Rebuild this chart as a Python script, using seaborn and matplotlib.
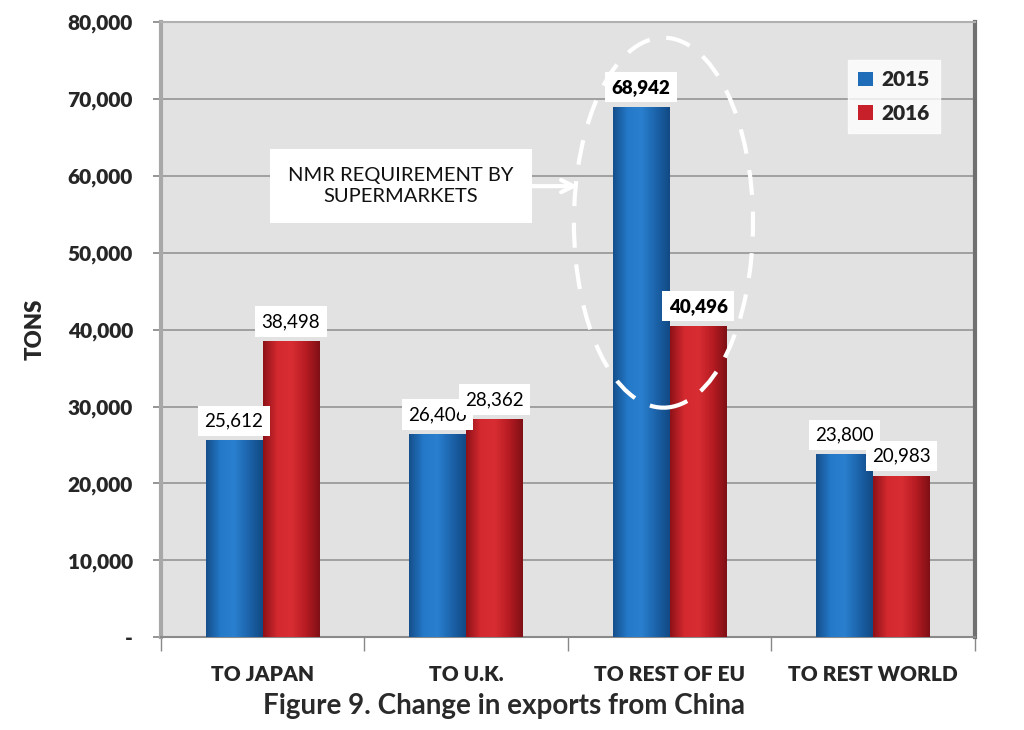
import numpy as np
import pandas as pd
import matplotlib
matplotlib.use("Agg")
import matplotlib.pyplot as plt
import seaborn as sns
from matplotlib.patches import Ellipse
from matplotlib.colors import LinearSegmentedColormap

categories = ["TO JAPAN", "TO U.K.", "TO REST OF EU", "TO REST WORLD"]
years = ["2015", "2016"]
values_2015 = [25612, 26406, 68942, 23800]
values_2016 = [38498, 28362, 40496, 20983]
yticks = [0, 10000, 20000, 30000, 40000, 50000, 60000, 70000, 80000]
ytick_labels = ["-", "10,000", "20,000", "30,000", "40,000", "50,000", "60,000", "70,000", "80,000"]
title = "Figure 9. Change in exports from China"
annotation = "NMR REQUIREMENT BY\nSUPERMARKETS"

df = pd.DataFrame({
    "category": categories * 2,
    "year": [years[0]] * 4 + [years[1]] * 4,
    "tons": values_2015 + values_2016,
})

sns.set_theme(style="white")
plt.rcParams["font.family"] = ["Lato", "DejaVu Sans"]

fig = plt.figure(figsize=(10.24, 7.3), dpi=100, facecolor="white")
ax = fig.add_axes([0.157, 0.127, 0.795, 0.843])
ax.set_facecolor("#e2e2e2")

palette = {"2015": "#1f6cb8", "2016": "#c8202a"}
sns.barplot(data=df, x="category", y="tons", hue="year", palette=palette,
            width=0.56, ax=ax, saturation=1, edgecolor="none", zorder=3)

ax.set_xlim(-0.5, 3.5)
ax.set_ylim(0, 80000)

# gradient shading on bars
cmaps = {
    "2015": LinearSegmentedColormap.from_list("b", ["#154f8c", "#2479c8", "#2a80cf", "#1c64ab", "#124a85"]),
    "2016": LinearSegmentedColormap.from_list("r", ["#8e1218", "#d42a2f", "#d82e33", "#b81c23", "#7f1015"]),
}
grad = np.linspace(0, 1, 64).reshape(1, -1)
for cont, yr in zip(ax.containers, years):
    for p in cont.patches:
        x0, y0 = p.get_x(), p.get_y()
        w, h = p.get_width(), p.get_height()
        im = ax.imshow(grad, cmap=cmaps[yr], aspect="auto",
                       extent=[x0, x0 + w, y0, y0 + h], zorder=3.5)
        im.set_clip_path(p)

# data labels
label_bold = [False, False, True, False]
for cont, yr in zip(ax.containers, years):
    for i, p in enumerate(cont.patches):
        v = p.get_height()
        ax.annotate(f"{int(v):,}", (p.get_x() + p.get_width() / 2, v),
                    xytext=(0, 8), textcoords="offset points", ha="center", va="bottom",
                    fontsize=13.5, fontweight="heavy" if label_bold[i] else "normal",
                    color="black", zorder=6,
                    bbox=dict(boxstyle="square,pad=0.35", fc="white", ec="none"))

# grid & axes styling
ax.yaxis.grid(True, color="#9a9a9a", linewidth=1.3, zorder=1)
ax.set_axisbelow(True)
ax.set_yticks(yticks)
ax.set_yticklabels(ytick_labels, fontsize=15, fontweight="heavy")
ax.tick_params(axis="y", which="both", direction="out", length=6, color="#888888",
               left=True, pad=14)
ax.set_xticks(range(len(categories)))
ax.set_xticklabels(categories, fontsize=15, fontweight="heavy")
ax.set_xticks(np.arange(-0.5, 4.0, 1.0), minor=True)
ax.tick_params(axis="x", which="major", length=0, pad=20)
ax.tick_params(axis="x", which="minor", length=10, direction="out", color="#888888", bottom=True)
ax.set_xlabel("")
ax.set_ylabel("TONS", fontsize=16, fontweight="heavy", labelpad=16)
for side in ["top", "right"]:
    ax.spines[side].set_color("#b0b0b0")
    ax.spines[side].set_linewidth(1.5)
ax.spines["right"].set_color("#707070")
ax.spines["right"].set_linewidth(3)
ax.spines["left"].set_color("#a8a8a8")
ax.spines["left"].set_linewidth(3)
ax.spines["bottom"].set_color("#8a8a8a")
ax.spines["bottom"].set_linewidth(1.5)

# legend
leg = ax.legend(loc="upper right", bbox_to_anchor=(0.97, 0.955), frameon=True, fancybox=False,
                prop={"size": 15, "weight": "heavy"}, handlelength=0.7, handleheight=0.7,
                handletextpad=0.4, labelspacing=0.7, borderpad=0.5, edgecolor="white")
leg.get_frame().set_facecolor("white")
leg.set_zorder(7)

# dashed ellipse around EU
ell = Ellipse((1.97, 53900), width=0.88, height=48100, fill=False, edgecolor="white",
              linestyle=(0, (6, 4)), linewidth=3, zorder=5)
ax.add_patch(ell)

# annotation box with arrow
ax.annotate(annotation, xy=(1.55, 58650), xytext=(0.68, 58650), ha="center", va="center",
            fontsize=14.5, color="#111111", zorder=8, linespacing=1.3,
            bbox=dict(boxstyle="square,pad=0.9", fc="white", ec="none"),
            arrowprops=dict(arrowstyle="->", color="white", lw=3, mutation_scale=22,
                            shrinkA=0, shrinkB=0))

fig.text(0.492, 0.033, title, ha="center", va="center", fontsize=20, fontweight="bold",
         color="#2a2a2a")

fig.savefig("out.png", dpi=100, facecolor=fig.get_facecolor())
